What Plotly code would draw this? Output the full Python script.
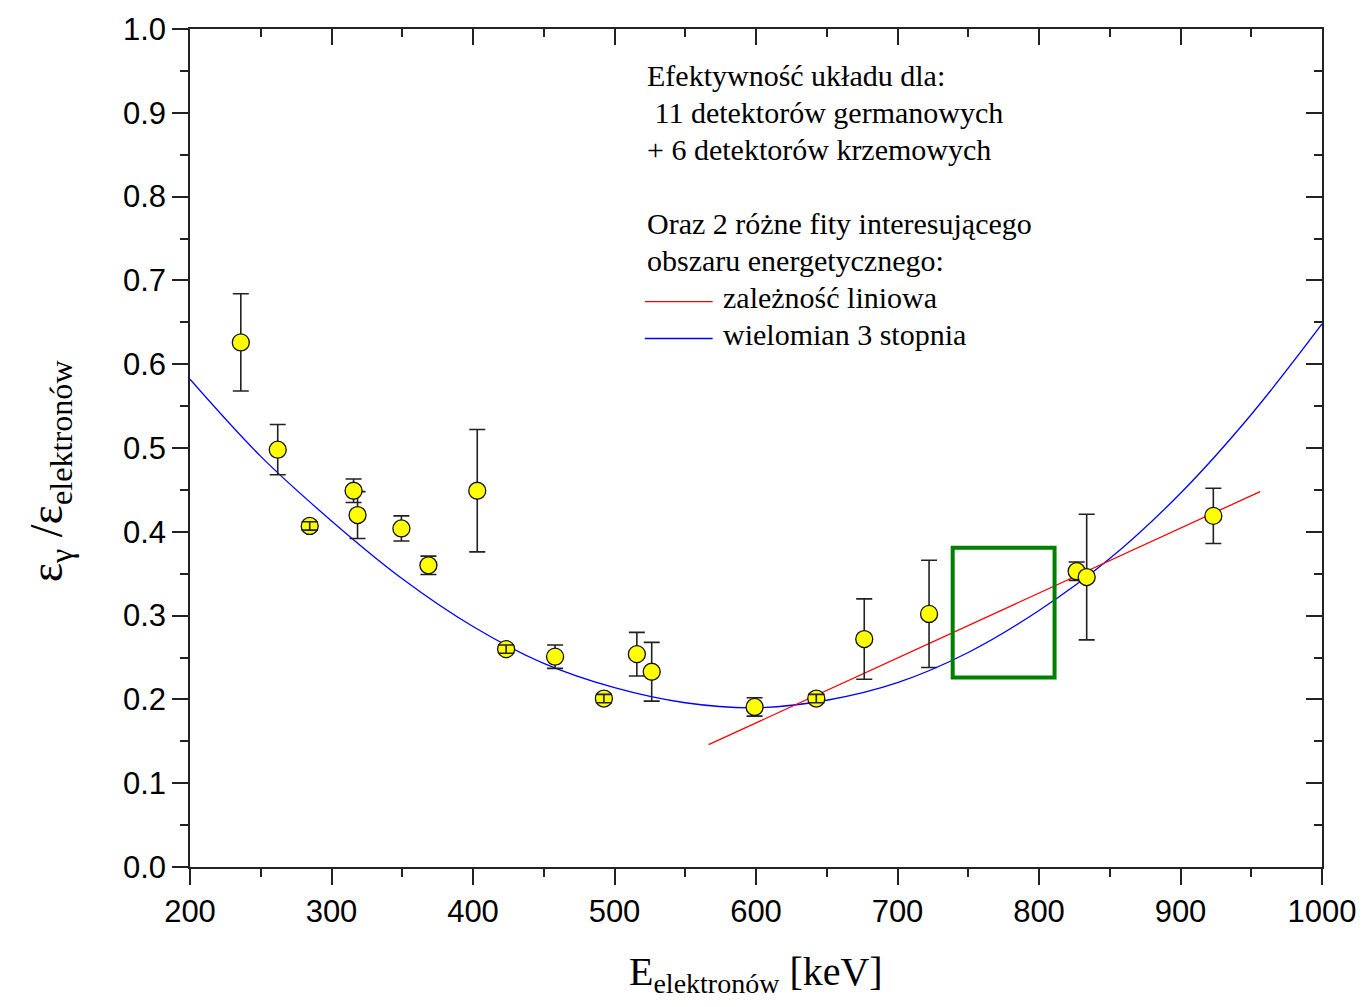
import plotly.graph_objects as go

# measured points
energy = [235.9, 262.0, 284.6, 315.6, 318.4, 349.4, 368.5, 403.0, 423.4, 458.0,
          492.5, 515.8, 526.3, 599.0, 642.6, 676.5, 722.3, 826.6, 833.7, 923.2]
efficiency = [0.626, 0.498, 0.407, 0.449, 0.420, 0.404, 0.360, 0.449, 0.260, 0.251,
              0.201, 0.254, 0.233, 0.191, 0.201, 0.272, 0.302, 0.353, 0.346, 0.419]
eff_error = [0.058, 0.030, 0.005, 0.014, 0.028, 0.015, 0.011, 0.073, 0.005, 0.014,
             0.005, 0.026, 0.035, 0.011, 0.005, 0.048, 0.064, 0.011, 0.075, 0.033]

# cubic polynomial fit
poly_x = [200, 250, 300, 350, 400, 450, 500, 550, 600, 650, 700, 750, 800, 850, 900, 950, 1000]
poly_y = [0.582, 0.490, 0.413, 0.344, 0.287, 0.243, 0.214, 0.196, 0.190, 0.199,
          0.220, 0.256, 0.306, 0.368, 0.446, 0.540, 0.648]

# linear fit
lin_x = [566.5, 956.3]
lin_y = [0.146, 0.448]

# highlighted region
box_x = [739, 811]
box_y = [0.226, 0.381]

x_ticks = [200, 300, 400, 500, 600, 700, 800, 900, 1000]
y_ticks = [0.0, 0.1, 0.2, 0.3, 0.4, 0.5, 0.6, 0.7, 0.8, 0.9, 1.0]

legend_lines = [
    "Efektywność układu dla:",
    "&nbsp;11 detektorów germanowych",
    "+ 6 detektorów krzemowych",
    "Oraz 2 różne fity interesującego",
    "obszaru energetycznego:",
]
legend_fits = ["zależność liniowa", "wielomian 3 stopnia"]

SERIF = "Liberation Serif, Times New Roman, serif"
SANS = "Liberation Sans, Arial, sans-serif"

fig = go.Figure()

fig.add_trace(go.Scatter(x=poly_x, y=poly_y, mode="lines", line=dict(color="#0000ff", width=1.3, shape="spline"),
                         showlegend=False, hoverinfo="skip"))
fig.add_trace(go.Scatter(x=lin_x, y=lin_y, mode="lines", line=dict(color="#ff0000", width=1.3),
                         showlegend=False, hoverinfo="skip"))
fig.add_trace(go.Scatter(
    x=energy, y=efficiency, mode="markers",
    marker=dict(size=17, color="#ffff00", line=dict(color="#111111", width=1.3)),
    error_y=dict(type="data", array=eff_error, visible=True, color="#222222", thickness=1.6, width=8),
    showlegend=False))

# tiny error bars are visible on top of their markers
small = [i for i, e in enumerate(eff_error) if e <= 0.006]
fig.add_trace(go.Scatter(
    x=[energy[i] for i in small], y=[efficiency[i] for i in small], mode="markers",
    marker=dict(size=1, opacity=0),
    error_y=dict(type="data", array=[eff_error[i] for i in small], visible=True,
                 color="#222222", thickness=1.6, width=8),
    showlegend=False, hoverinfo="skip"))

# dummy trace for mirrored axes
fig.add_trace(go.Scatter(x=[None], y=[None], xaxis="x2", yaxis="y2", showlegend=False, hoverinfo="skip"))

fig.add_shape(type="rect", xref="x", yref="y", x0=box_x[0], x1=box_x[1], y0=box_y[0], y1=box_y[1],
              line=dict(color="#008000", width=4))

common = dict(showline=True, linecolor="#222222", linewidth=1.5, showgrid=False, zeroline=False,
              tickcolor="#222222", tickwidth=1.5, ticklen=16)

fig.update_layout(
    width=1368, height=1007,
    margin=dict(l=190, r=43, t=25, b=140),
    paper_bgcolor="white", plot_bgcolor="white",
    xaxis=dict(range=[200, 1000], tickvals=x_ticks, ticks="outside",
               tickfont=dict(family=SANS, size=31, color="#000000"),
               minor=dict(dtick=50, ticks="outside", ticklen=8, tickcolor="#222222", tickwidth=1.5),
               **common),
    yaxis=dict(range=[0, 1.0], tickvals=y_ticks, tickformat=".1f", ticks="outside",
               tickfont=dict(family=SANS, size=31, color="#000000"),
               minor=dict(dtick=0.05, ticks="outside", ticklen=8, tickcolor="#222222", tickwidth=1.5),
               **common),
    xaxis2=dict(range=[200, 1000], overlaying="x", side="top", tickvals=x_ticks, ticks="inside",
                showticklabels=False, anchor="y",
                minor=dict(dtick=50, ticks="inside", ticklen=8, tickcolor="#222222", tickwidth=1.5),
                **common),
    yaxis2=dict(range=[0, 1.0], overlaying="y", side="right", tickvals=y_ticks, ticks="inside",
                showticklabels=False, anchor="x",
                minor=dict(dtick=0.05, ticks="inside", ticklen=8, tickcolor="#222222", tickwidth=1.5),
                **common),
)

# axis titles
fig.add_annotation(xref="paper", yref="paper", x=0.5, y=-0.095, xanchor="center", yanchor="top",
                   text="E<sub>elektronów</sub> [keV]", showarrow=False,
                   font=dict(family=SERIF, size=40, color="#000000"))
fig.add_annotation(xref="paper", yref="paper", x=-0.124, y=0.473, xanchor="center", yanchor="middle",
                   text="ε<sub>γ</sub> /ε<sub>elektronów</sub>", textangle=-90, showarrow=False,
                   font=dict(family=SERIF, size=46, color="#000000"))

# legend text block
px_y = [72, 109, 146, 220, 258]
for txt, py in zip(legend_lines, px_y):
    fig.add_annotation(xref="paper", yref="paper", x=(646 - 190) / 1135, y=(867 - py) / 842,
                       xanchor="left", yanchor="middle", text=txt,
                       showarrow=False, font=dict(family=SERIF, size=30, color="#000000"))

fit_colors = ["#ff0000", "#0000ff"]
for txt, py, col in zip(legend_fits, [299, 336], fit_colors):
    yy = (867 - py) / 842
    fig.add_shape(type="line", xref="paper", yref="paper", x0=(646 - 190) / 1135, x1=(714 - 190) / 1135,
                  y0=yy, y1=yy, line=dict(color=col, width=1.3))
    fig.add_annotation(xref="paper", yref="paper", x=(722 - 190) / 1135, y=(867 - py + 4) / 842,
                       xanchor="left", yanchor="middle", text=txt, showarrow=False,
                       font=dict(family=SERIF, size=30, color="#000000"))

fig.write_html("out.html")
